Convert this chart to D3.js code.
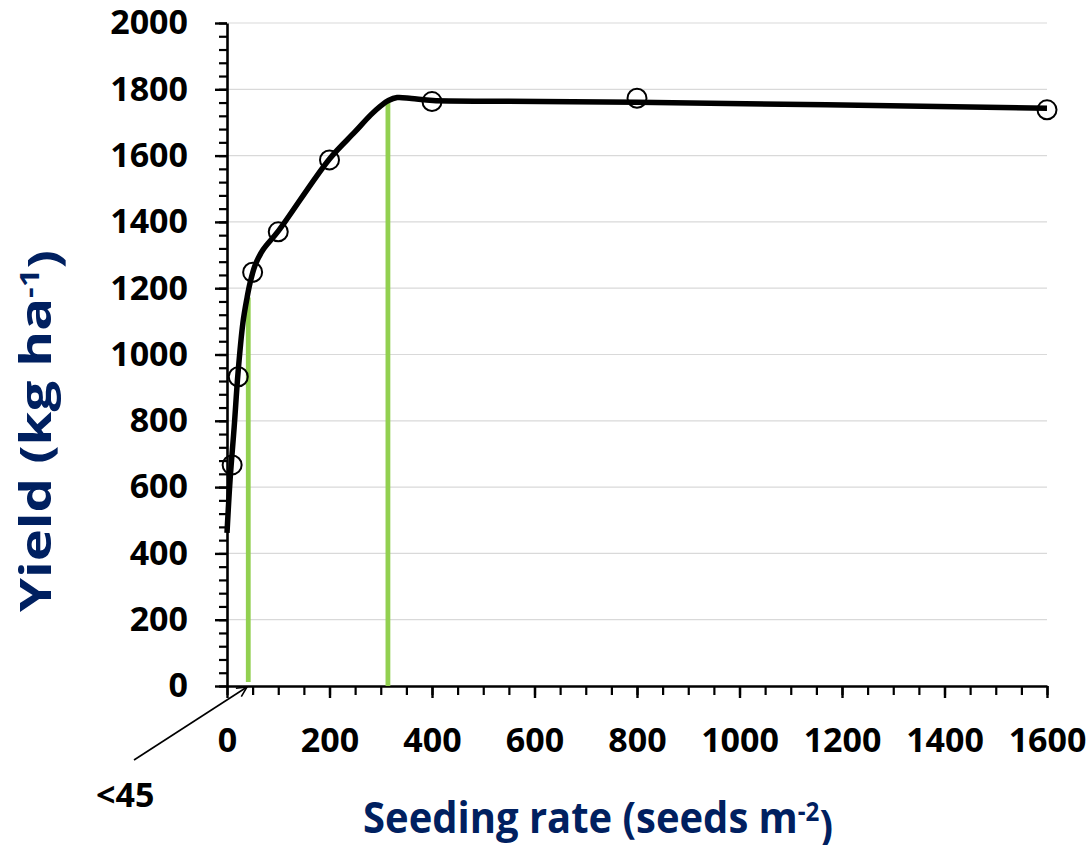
<!DOCTYPE html>
<html>
<head>
<meta charset="utf-8">
<script src="https://cdn.jsdelivr.net/npm/d3@7"></script>
<style>
  html, body { margin: 0; padding: 0; background: #fff; }
  svg text { font-family: "Open Sans", "Noto Sans", sans-serif; font-weight: 700; }
</style>
</head>
<body>
<div id="chart"></div>
<script>
// Yield response to seeding rate: observed means + fitted smooth curve
(function () {
  const SEED_RATES = [10, 22, 50, 100, 200, 400, 800, 1600];
  const YIELDS = [667, 933, 1248, 1370, 1587, 1763, 1773, 1738];

  // fitted curve
  const FIT_X = [0, 6, 14, 21.5, 31, 39, 45, 55, 70, 100, 200, 250, 280, 300, 315, 332, 360, 402, 533, 800, 1600];
  const FIT_Y = [462, 622, 781, 944, 1095, 1170, 1216, 1270, 1315, 1372, 1590, 1672, 1722, 1750, 1766, 1775, 1772, 1766, 1764, 1761, 1743];

  // green markers: [seeding rate, yield bottom, yield top]
  const MARKERS = [
    [41.5, 12, 1172],
    [314, 0, 1763],
  ];

  const X_TICKS = d3.range(0, 1601, 200);
  const Y_TICKS = d3.range(0, 2001, 200);

  const NAVY = "#002060";
  const GREEN = "#92d050";

  const width = 1091;
  const height = 845;

  const svg = d3.select("#chart").append("svg").attr("width", width).attr("height", height);

  const x = d3.scaleLinear().domain([0, 1600]).range([227, 1047]);
  const y = d3.scaleLinear().domain([0, 2000]).range([686, 23]);

  // gridlines
  svg.append("g")
    .selectAll("line")
    .data(Y_TICKS.filter((d) => d > 0))
    .join("line")
    .attr("x1", x(0))
    .attr("x2", x(1600))
    .attr("y1", (d) => y(d))
    .attr("y2", (d) => y(d))
    .attr("stroke", "#d9d9d9")
    .attr("stroke-width", 1.2);

  // minor ticks
  svg.append("g")
    .attr("transform", `translate(0,${y(0)})`)
    .call(d3.axisBottom(x).tickValues(d3.range(0, 1601, 50)).tickSize(9).tickSizeOuter(0).tickFormat(""))
    .call((g) => g.select(".domain").remove())
    .call((g) => g.selectAll("line").attr("stroke", "#000").attr("stroke-width", 2.2));

  svg.append("g")
    .attr("transform", `translate(${x(0)},0)`)
    .call(d3.axisLeft(y).tickValues(d3.range(0, 2001, 40)).tickSize(8).tickSizeOuter(0).tickFormat(""))
    .call((g) => g.select(".domain").remove())
    .call((g) => g.selectAll("line").attr("stroke", "#000").attr("stroke-width", 2.2));

  // major axes
  const xAxis = svg.append("g")
    .attr("transform", `translate(0,${y(0)})`)
    .call(d3.axisBottom(x).tickValues(X_TICKS).tickFormat(d3.format("d")).tickSize(12).tickSizeOuter(0).tickPadding(30));

  const yAxis = svg.append("g")
    .attr("transform", `translate(${x(0)},0)`)
    .call(d3.axisLeft(y).tickValues(Y_TICKS).tickFormat(d3.format("d")).tickSize(12).tickSizeOuter(0).tickPadding(27));

  [xAxis, yAxis].forEach((g) => {
    g.select(".domain").attr("stroke", "#000").attr("stroke-width", 2.6);
    g.selectAll(".tick line").attr("stroke", "#000").attr("stroke-width", 2.4);
    g.selectAll(".tick text")
      .attr("fill", "#000")
      .style("font-family", '"Open Sans", sans-serif')
      .style("font-weight", 700)
      .style("font-size", "34px");
  });

  // green vertical markers
  svg.append("g")
    .selectAll("line")
    .data(MARKERS)
    .join("line")
    .attr("x1", (d) => x(d[0]))
    .attr("x2", (d) => x(d[0]))
    .attr("y1", (d) => y(d[1]))
    .attr("y2", (d) => y(d[2]))
    .attr("stroke", GREEN)
    .attr("stroke-width", 4.8);

  // fitted curve
  const fit = FIT_X.map((v, i) => [v, FIT_Y[i]]);
  const line = d3.line()
    .x((d) => x(d[0]))
    .y((d) => y(d[1]))
    .curve(d3.curveCatmullRom.alpha(0.5));

  svg.append("path")
    .datum(fit)
    .attr("d", line)
    .attr("fill", "none")
    .attr("stroke", "#000")
    .attr("stroke-width", 5.5)
    .attr("stroke-linejoin", "round");

  // observed points
  svg.append("g")
    .selectAll("circle")
    .data(SEED_RATES.map((v, i) => [v, YIELDS[i]]))
    .join("circle")
    .attr("cx", (d) => x(d[0]))
    .attr("cy", (d) => y(d[1]))
    .attr("r", 9.5)
    .attr("fill", "none")
    .attr("stroke", "#000")
    .attr("stroke-width", 2);

  // "<45" annotation with arrow
  svg.append("defs")
    .append("marker")
    .attr("id", "arrow")
    .attr("viewBox", "0 0 12 12")
    .attr("refX", 11)
    .attr("refY", 6)
    .attr("markerWidth", 12)
    .attr("markerHeight", 12)
    .attr("markerUnits", "userSpaceOnUse")
    .attr("orient", "auto")
    .append("path")
    .attr("d", "M1,1 L11,6 L1,11")
    .attr("fill", "none")
    .attr("stroke", "#000")
    .attr("stroke-width", 1.6);

  svg.append("line")
    .attr("x1", 134)
    .attr("y1", 760)
    .attr("x2", x(39))
    .attr("y2", y(0) + 1)
    .attr("stroke", "#000")
    .attr("stroke-width", 1.6)
    .attr("marker-end", "url(#arrow)");

  svg.append("text")
    .attr("x", 96)
    .attr("y", 807)
    .style("font-size", "34px")
    .attr("fill", "#000")
    .text("<45");

  // axis titles, squeezed to the reference width
  function fitWidth(sel, target) {
    const w = sel.node().getComputedTextLength();
    return w > 0 ? target / w : 1;
  }

  const xTitle = svg.append("text")
    .attr("text-anchor", "middle")
    .attr("fill", NAVY)
    .style("font-size", "43px");
  xTitle.append("tspan").text("Seeding rate (seeds m");
  xTitle.append("tspan").attr("dy", "-0.45em").style("font-size", "26px").text("-2");
  xTitle.append("tspan").attr("dy", "0.45em").text(")");
  const sx = fitWidth(xTitle, 470);
  xTitle.attr("transform", `translate(598,833) scale(${sx},1)`);

  const yTitle = svg.append("text")
    .attr("text-anchor", "middle")
    .attr("fill", NAVY)
    .style("font-size", "43px");
  yTitle.append("tspan").text("Yield (kg ha");
  yTitle.append("tspan").attr("dy", "-0.45em").style("font-size", "26px").text("-1");
  yTitle.append("tspan").attr("dy", "0.45em").text(")");
  const sy = fitWidth(yTitle, 362);
  yTitle.attr("transform", `translate(51,431) rotate(-90) scale(${sy},1)`);
})();
</script>
</body>
</html>
